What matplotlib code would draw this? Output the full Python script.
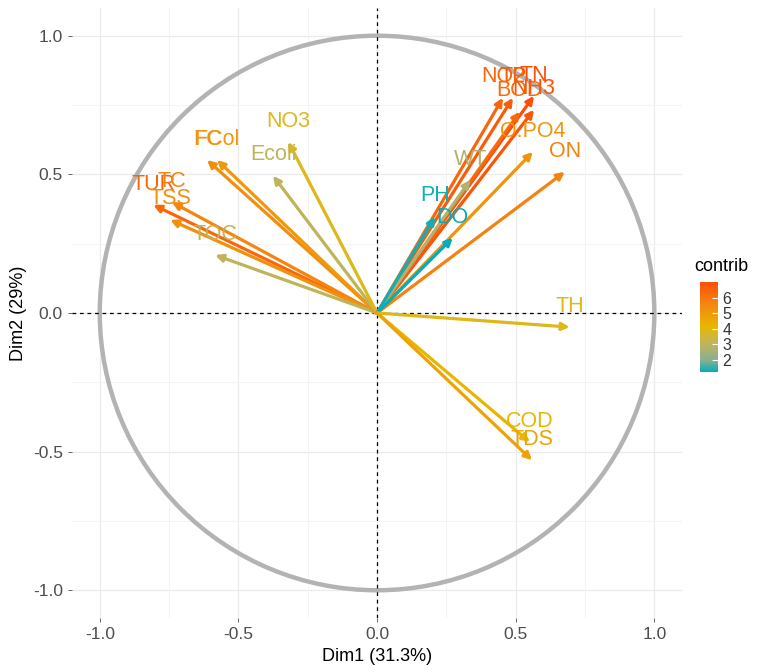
import numpy as np
import matplotlib
matplotlib.use("Agg")
import matplotlib.pyplot as plt
from matplotlib.colors import LinearSegmentedColormap, Normalize
from matplotlib.patches import Circle
from matplotlib.colorbar import ColorbarBase

plt.rcParams['font.family'] = ['Liberation Sans', 'DejaVu Sans']

# variable coordinates on Dim1 / Dim2
variables = ["TUR", "TC", "TSS", "TOC", "FC", "FCol", "Ecoli", "NO3",
             "NO2", "TP", "TN", "BOD", "NH3", "O.PO4", "ON", "WT",
             "PH", "DO", "TH", "COD", "TDS"]
dim1 = [-0.807, -0.740, -0.746, -0.584, -0.613, -0.577, -0.375, -0.320,
        0.454, 0.490, 0.566, 0.515, 0.566, 0.562, 0.677, 0.336,
        0.209, 0.273, 0.695, 0.551, 0.559]
dim2 = [0.390, 0.400, 0.336, 0.209, 0.552, 0.552, 0.495, 0.617,
        0.776, 0.776, 0.783, 0.726, 0.733, 0.581, 0.509, 0.480,
        0.347, 0.271, -0.051, -0.466, -0.531]
cbar_ticks = [2, 3, 4, 5, 6]

x = np.array(dim1)
y = np.array(dim2)
r2 = x ** 2 + y ** 2
contrib = r2 / r2.sum() * 100

# factoextra gradient (#00AFBB, #E7B800, #FC4E07), approximated in Lab space
cmap = LinearSegmentedColormap.from_list(
    "contrib",
    [(0.0, "#00AFBB"), (0.125, "#84B08F"), (0.25, "#AFB270"),
     (0.375, "#CDB546"), (0.5, "#E7B800"), (0.75, "#F4880F"),
     (1.0, "#FC4E07")])
norm = Normalize(vmin=1.2, vmax=7.0)

fig = plt.figure(figsize=(7.72, 6.66), dpi=100)
ax = fig.add_axes([0.0933, 0.0721, 0.7902, 0.9159])
ax.set_xlim(-1.1, 1.1)
ax.set_ylim(-1.1, 1.1)

for s in ax.spines.values():
    s.set_visible(False)

for v in [-1.0, -0.5, 0.0, 0.5, 1.0]:
    ax.axvline(v, color="#EBEBEB", lw=0.9, zorder=0)
    ax.axhline(v, color="#EBEBEB", lw=0.9, zorder=0)
for v in [-0.75, -0.25, 0.25, 0.75]:
    ax.axvline(v, color="#F3F3F3", lw=0.6, zorder=0)
    ax.axhline(v, color="#F3F3F3", lw=0.6, zorder=0)

ax.add_patch(Circle((0, 0), 1.0, fill=False, ec="#B3B3B3", lw=3.2, zorder=1))
ax.axhline(0, color="black", lw=0.9, ls=(0, (3, 3)), zorder=2)
ax.axvline(0, color="black", lw=0.9, ls=(0, (3, 3)), zorder=2)

for name, xi, yi, c in zip(variables, x, y, contrib):
    col = cmap(norm(c))
    ax.annotate("", xy=(xi, yi), xytext=(0, 0),
                arrowprops=dict(arrowstyle="-|>", color=col, lw=2.3,
                                mutation_scale=11, shrinkA=0, shrinkB=0),
                zorder=3)
for name, xi, yi, c in zip(variables, x, y, contrib):
    col = cmap(norm(c))
    ax.annotate(name, xy=(xi, yi), xytext=(0, 15), textcoords="offset points",
                ha="center", va="center", color=col, fontsize=15.5, zorder=4)

ax.set_xticks([-1.0, -0.5, 0.0, 0.5, 1.0])
ax.set_yticks([-1.0, -0.5, 0.0, 0.5, 1.0])
ax.set_xticklabels(["-1.0", "-0.5", "0.0", "0.5", "1.0"])
ax.set_yticklabels(["-1.0", "-0.5", "0.0", "0.5", "1.0"])
ax.tick_params(axis="both", colors="#4D4D4D", labelsize=12.5, length=3, width=0.6)
ax.set_xlabel("Dim1 (31.3%)", fontsize=13, color="black", labelpad=4)
ax.set_ylabel("Dim2 (29%)", fontsize=13, color="black", labelpad=4)

cax = fig.add_axes([0.9067, 0.4414, 0.0233, 0.1351])
cb = ColorbarBase(cax, cmap=cmap, norm=norm, ticks=cbar_ticks)
cb.outline.set_visible(False)
cax.tick_params(length=4, width=0.8, color="white", direction="in",
                labelsize=11.5, labelcolor="#333333", pad=3)
cax.set_title("contrib", fontsize=13, loc="left", pad=8, x=-0.3)

fig.savefig("out.png", dpi=100, facecolor="white")
